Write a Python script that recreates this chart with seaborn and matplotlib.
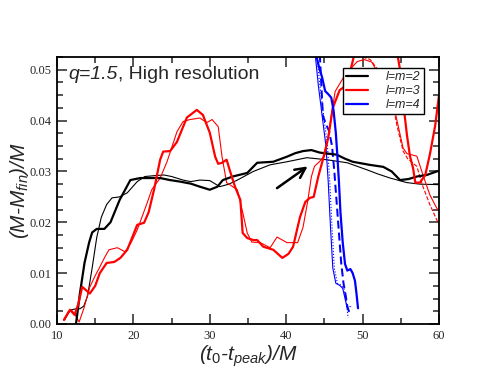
import matplotlib
matplotlib.use("Agg")
import matplotlib.pyplot as plt
import seaborn as sns

# ---------------- data ----------------
# l=m=2, thick (high resolution)
black_hi_x = [12.5, 13.0, 13.6, 14.2, 14.6, 15.2, 16.2, 17.0, 18.2, 19.6, 20.9, 22.5, 23.5, 24.8,
              26.1, 27.5, 28.7, 30.0, 31.0, 31.7, 33.0, 34.9, 36.2, 37.2, 38.3, 40.1, 41.2, 42.2,
              43.3, 44.4, 45.5, 46.6, 47.7, 48.7, 50.9, 52.7, 53.8, 54.9, 56.0, 57.1, 58.4, 59.7, 60.0]
black_hi_y = [0.0002, 0.0060, 0.0120, 0.0160, 0.0180, 0.0187, 0.0187, 0.0200, 0.0244, 0.0283, 0.0287,
              0.0287, 0.0287, 0.0283, 0.0280, 0.0276, 0.0270, 0.0264, 0.0270, 0.0283, 0.0290, 0.0297,
              0.0317, 0.0318, 0.0319, 0.0329, 0.0336, 0.0340, 0.0342, 0.0337, 0.0335, 0.0333, 0.0325,
              0.0319, 0.0313, 0.0309, 0.0300, 0.0283, 0.0285, 0.0290, 0.0293, 0.0300, 0.0301]
# l=m=2, thin
black_lo_x = [11.0, 11.5, 11.9, 12.5, 13.0, 13.5, 14.0, 14.6, 15.2, 15.8, 16.5, 17.2, 18.2, 19.2,
              20.5, 21.5, 23.0, 24.0, 25.0, 26.5, 27.5, 28.7, 30.0, 31.3, 32.5, 33.6, 35.7, 37.9,
              40.1, 42.7, 45.3, 48.0, 50.6, 52.0, 53.6, 55.8, 57.5, 60.0]
black_lo_y = [0.0008, 0.0022, 0.0028, 0.0030, 0.0030, 0.0035, 0.0055, 0.0110, 0.0170, 0.0210, 0.0235,
              0.0248, 0.0250, 0.0258, 0.0280, 0.0290, 0.0292, 0.0293, 0.0290, 0.0283, 0.0280, 0.0283,
              0.0282, 0.0270, 0.0275, 0.0283, 0.0300, 0.0313, 0.0319, 0.0327, 0.0323, 0.0317, 0.0303,
              0.0295, 0.0287, 0.0278, 0.0275, 0.0274]
# l=m=3, thick
red_hi_x = [10.9, 11.7, 12.3, 12.8, 13.3, 14.3, 15.0, 15.6, 16.5, 17.5, 18.3, 19.2, 20.5, 21.4, 22.0,
            22.7, 23.5, 23.9, 24.8, 25.7, 27.0, 28.3, 29.1, 30.0, 30.7, 31.1, 31.6, 32.2, 32.6, 33.3,
            34.0, 34.3, 34.9, 35.7, 36.2, 37.0, 38.3, 39.5, 40.3, 40.9, 41.8, 42.5, 43.1, 43.6, 44.2,
            44.8, 45.5, 46.1, 47.0, 47.5, 48.3, 49.0, 50.5, 54.0, 54.9, 55.3, 55.8, 56.2, 56.6, 56.9,
            57.5, 58.2, 58.8, 59.5, 60.0]
red_hi_y = [0.0008, 0.0028, 0.0018, 0.0040, 0.0073, 0.0060, 0.0075, 0.0100, 0.0120, 0.0122, 0.0130,
            0.0146, 0.0195, 0.0199, 0.0220, 0.0264, 0.0323, 0.0339, 0.0340, 0.0358, 0.0406, 0.0421,
            0.0411, 0.0376, 0.0329, 0.0315, 0.0317, 0.0323, 0.0303, 0.0270, 0.0244, 0.0179, 0.0169,
            0.0165, 0.0165, 0.0152, 0.0146, 0.0130, 0.0138, 0.0152, 0.0210, 0.0240, 0.0248, 0.0250,
            0.0290, 0.0323, 0.0366, 0.0425, 0.0460, 0.0465, 0.0492, 0.0535, 0.0580, 0.0580, 0.0500,
            0.0437, 0.0372, 0.0330, 0.0307, 0.0278, 0.0278, 0.0293, 0.0333, 0.0390, 0.0450]
# l=m=3, thin
red_lo_x = [10.9, 11.5, 12.0, 12.5, 12.9, 13.5, 14.3, 15.0, 15.6, 16.2, 16.8, 17.9, 18.9, 19.7, 20.5,
            21.8, 22.4, 23.5, 24.4, 25.7, 26.5, 27.4, 28.7, 29.6, 30.3, 31.1, 31.6, 32.2, 33.0, 33.6,
            34.3, 34.9, 35.5, 36.6, 37.9, 38.8, 40.1, 41.5, 42.2, 42.8, 43.3, 43.7, 44.4, 45.0, 45.4,
            45.8, 46.4, 47.7, 49.3, 50.2, 51.2, 52.5, 53.8, 54.5, 55.3, 55.8, 57.1, 57.9, 58.8, 59.7, 60.0]
red_lo_y = [0.0008, 0.0025, 0.0026, 0.0015, 0.0004, 0.0030, 0.0073, 0.0095, 0.0112, 0.0130, 0.0146,
            0.0150, 0.0142, 0.0160, 0.0185, 0.0238, 0.0264, 0.0287, 0.0319, 0.0378, 0.0398, 0.0402,
            0.0405, 0.0396, 0.0402, 0.0388, 0.0329, 0.0278, 0.0270, 0.0264, 0.0220, 0.0179, 0.0161,
            0.0160, 0.0150, 0.0171, 0.0160, 0.0160, 0.0190, 0.0240, 0.0290, 0.0310, 0.0320, 0.0330,
            0.0360, 0.0400, 0.0457, 0.0490, 0.0516, 0.0520, 0.0515, 0.0480, 0.0447, 0.0400, 0.0346,
            0.0335, 0.0330, 0.0293, 0.0254, 0.0228, 0.0222]
# l=m=3, thin dashed
red_da_x = [50.0, 51.0, 52.0, 53.0, 53.8, 54.5, 55.3, 55.9, 57.1, 57.9, 58.8, 59.7, 60.0]
red_da_y = [0.0525, 0.0520, 0.0500, 0.0470, 0.0445, 0.0390, 0.0340, 0.0325, 0.0310, 0.0270,
            0.0235, 0.0205, 0.0195]
# l=m=4, thick
blue_hi_x = [43.9, 44.3, 44.7, 45.1, 45.5, 45.9, 46.2, 46.5, 46.7, 46.9, 47.1, 47.4, 47.7, 48.0,
             48.4, 48.7, 49.0, 49.2, 49.4]
blue_hi_y = [0.0530, 0.0505, 0.0485, 0.0458, 0.0452, 0.0445, 0.0420, 0.0375, 0.0330, 0.0280,
             0.0220, 0.0160, 0.0118, 0.0105, 0.0108, 0.0100, 0.0085, 0.0060, 0.0031]
# l=m=4, thick dashed
blue_da_x = [44.4, 44.6, 44.8, 45.2, 45.6, 46.0, 46.3, 46.6, 46.9, 47.2, 47.5, 47.8, 48.0, 48.2, 48.4]
blue_da_y = [0.0530, 0.0470, 0.0410, 0.0393, 0.0380, 0.0350, 0.0300, 0.0240, 0.0180, 0.0120,
             0.0080, 0.0055, 0.0035, 0.0025, 0.0035]
# l=m=4, thin
blue_lo_x = [43.8, 44.2, 44.7, 45.2, 45.5, 45.8, 46.1, 46.5, 47.0, 47.4, 47.7, 48.0]
blue_lo_y = [0.0530, 0.0470, 0.0410, 0.0350, 0.0280, 0.0190, 0.0110, 0.0080, 0.0076, 0.0070,
             0.0050, 0.0030]
# l=m=4, thin dotted
blue_dt_x = [44.0, 44.4, 44.9, 45.4, 45.7, 46.0, 46.3, 46.7, 47.2, 47.6, 47.9, 48.1]
blue_dt_y = [0.0530, 0.0470, 0.0410, 0.0350, 0.0280, 0.0190, 0.0110, 0.0080, 0.0076, 0.0068,
             0.0040, 0.0012]

legend_labels = ["l=m=2", "l=m=3", "l=m=4"]
arrow_start = (38.5, 0.0264)
arrow_end = (43.1, 0.0313)
x_ticks = [10, 20, 30, 40, 50, 60]
y_ticks = [0.00, 0.01, 0.02, 0.03, 0.04, 0.05]

# ---------------- style ----------------
sns.set_style("ticks")
plt.rcParams["font.family"] = ["Liberation Sans", "DejaVu Sans"]
plt.rcParams["mathtext.fontset"] = "custom"
plt.rcParams["mathtext.it"] = "Liberation Sans:italic"
plt.rcParams["mathtext.rm"] = "Liberation Sans"
plt.rcParams["mathtext.default"] = "it"

BLACK, RED, BLUE = "#000000", "#ff0000", "#0000ff"
THICK, THIN = 1.6, 0.8

fig = plt.figure(figsize=(4.94, 3.82), dpi=100)
ax = fig.add_axes([57 / 494, 1 - 324 / 382, (439 - 57) / 494, (324 - 57) / 382])

def line(x, y, color, lw, ls="-", label=None):
    sns.lineplot(x=x, y=y, color=color, lw=lw, linestyle=ls, ax=ax,
                 estimator=None, sort=False, label=label, legend=False)

line(black_lo_x, black_lo_y, BLACK, THIN)
line(red_lo_x, red_lo_y, RED, THIN)
line(red_da_x, red_da_y, RED, THIN, "--")
line(blue_lo_x, blue_lo_y, BLUE, THIN)
line(blue_dt_x, blue_dt_y, BLUE, THIN, ":")
line(blue_da_x, blue_da_y, BLUE, THICK * 0.9, (0, (4, 2)))
line(black_hi_x, black_hi_y, BLACK, THICK, label=legend_labels[0])
line(red_hi_x, red_hi_y, RED, THICK, label=legend_labels[1])
line(blue_hi_x, blue_hi_y, BLUE, THICK, label=legend_labels[2])

ax.annotate("", xy=arrow_end, xytext=arrow_start,
            arrowprops=dict(arrowstyle="->", lw=1.8, color="black", mutation_scale=18))

ax.set_xlim(10, 60)
ax.set_ylim(0, 0.0525)
ax.set_xticks(x_ticks)
ax.set_xticklabels([str(v) for v in x_ticks])
ax.set_yticks(y_ticks)
ax.set_yticklabels([f"{v:.2f}" for v in y_ticks])
ax.set_xticks([15, 25, 35, 45, 55], minor=True)
ax.set_yticks([i * 0.0025 for i in range(22) if i % 4 != 0], minor=True)
ax.tick_params(which="both", direction="in", top=True, right=True, width=1.1)
ax.tick_params(which="major", length=7, pad=4)
ax.tick_params(which="minor", length=4)
for lab in ax.get_xticklabels() + ax.get_yticklabels():
    lab.set_family("Liberation Serif")
    lab.set_fontsize(9)
for s in ax.spines.values():
    s.set_linewidth(1.3)
    s.set_color("black")

ax.set_xlabel("(t$_0$-t$_{peak}$)/M", fontsize=15, fontstyle="italic")
ax.set_ylabel("(M-M$_{fin}$)/M", fontsize=15, fontstyle="italic")
ax.xaxis.set_label_coords(0.5, -(356 - 324) / 267)
ax.yaxis.set_label_coords(-(57 - 20) / 382, 0.5)
ax.xaxis.label.set_verticalalignment("center")
ax.yaxis.label.set_verticalalignment("center")

t1 = ax.text(0.03, 0.965, "q=1.5", transform=ax.transAxes, fontsize=14,
             fontstyle="italic", va="top", ha="left")
ax.annotate(", High resolution", xy=(1, 0), xycoords=t1, va="bottom", ha="left",
            fontsize=14)

leg = ax.legend(loc="upper right", bbox_to_anchor=((424 - 57) / 382, (324 - 68) / 267),
                fontsize=9, frameon=True, fancybox=False, edgecolor="black",
                framealpha=1, handlelength=1.7, handletextpad=1.5, borderpad=0.25,
                labelspacing=0.15, borderaxespad=0)
leg.get_frame().set_linewidth(1.0)
for t in leg.get_texts():
    t.set_fontstyle("italic")

fig.savefig("out.png", dpi=100, facecolor="white")
